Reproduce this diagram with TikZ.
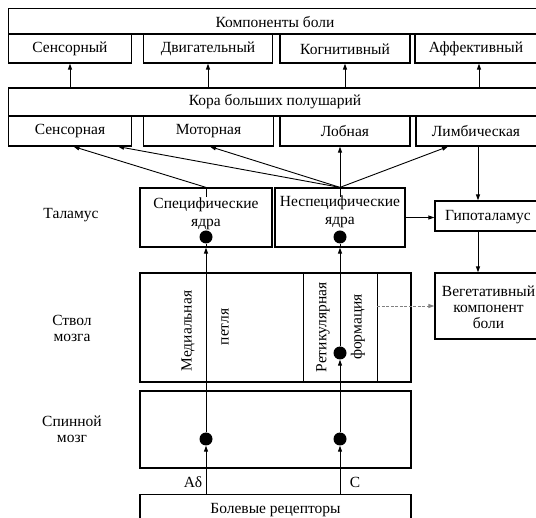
\documentclass[tikz,border=0pt]{standalone}
\usepackage{fontspec}
\setmainfont{Liberation Serif}
\usetikzlibrary{arrows.meta,calc}
\tikzset{
  box/.style={draw, line width=1.2pt, inner sep=0pt},
  txt/.style={inner sep=0pt, align=center, font=\fontsize{15.5}{16}\selectfont},
  arr/.style={line width=0.9pt, -{Triangle[length=6pt,width=4pt]}},
  fib/.style={line width=0.9pt},
  dot/.style={circle, fill=black, inner sep=0pt, minimum size=13pt},
  dasharr/.style={line width=0.9pt, gray, dash pattern=on 3pt off 1.5pt, -{Triangle[length=6pt,width=4pt]}}
}
\begin{document}
\begin{tikzpicture}[x=1pt,y=-1pt]
\useasboundingbox (0,0) rectangle (536,518);
\clip (0,0) rectangle (536,518);
% top components
\node[box, minimum width=534.5pt, minimum height=25.5pt] (comp) at (275.75,21.25) {};
\node[txt] (compt) at (275,22) {Компоненты боли};
\node[box, minimum width=123pt, minimum height=29pt] (c1) at (70,48.5) {};
\node[box, minimum width=129pt, minimum height=29pt] (c2) at (208,48.5) {};
\node[box, minimum width=130pt, minimum height=29pt] (c3) at (345,48.5) {};
\node[box, minimum width=128pt, minimum height=29pt] (c4) at (479,48.5) {};
\node[txt] (c1t) at (70,49) {Сенсорный};
\node[txt] (c2t) at (208,49) {Двигательный};
\node[txt] (c3t) at (345,49) {Когнитивный};
\node[txt] (c4t) at (476,49) {Аффективный};
% cortex
\node[box, minimum width=534.5pt, minimum height=28pt] (kora) at (275.75,102) {};
\node[txt] (korat) at (275,102) {Кора больших полушарий};
\node[box, minimum width=123pt, minimum height=30pt] (k1) at (70,131) {};
\node[box, minimum width=130pt, minimum height=30pt] (k2) at (208.5,131) {};
\node[box, minimum width=130pt, minimum height=30pt] (k3) at (345,131) {};
\node[box, minimum width=127pt, minimum height=30pt] (k4) at (479.5,131) {};
\node[txt] (k1t) at (70,131) {Сенсорная};
\node[txt] (k2t) at (208.5,131) {Моторная};
\node[txt] (k3t) at (345,131) {Лобная};
\node[txt] (k4t) at (476,131) {Лимбическая};
\foreach \n in {c1,c2,c3,c4}{
  \draw[arr] (kora.north -| \n) -- (\n.south);
}
% thalamus
\node[box, minimum width=132pt, minimum height=59pt] (spec) at (206,217.5) {};
\node[box, minimum width=130pt, minimum height=59pt] (nspec) at (340,217.5) {};
\node[txt, text depth=0pt] (spect) at (206,212) {Специфические\\[2pt]ядра};
\node[txt] (nspect) at (340,212) {Неспецифические\\[2pt]ядра};
\node[dot] (sd) at (206,237) {};
\node[dot] (nd) at (340,237) {};
\node[box, minimum width=108pt, minimum height=30pt] (hypo) at (489,216) {};
\node[txt] (hypot) at (488,217) {Гипоталамус};
\node[box, minimum width=108pt, minimum height=66pt] (veg) at (489,306) {};
\node[txt] (vegt) at (488.5,307) {Вегетативный\\компонент\\боли};
% brainstem
\node[box, minimum width=271pt, minimum height=109pt] (stem) at (275.5,327.5) {};
\draw[fib] ([xshift=164pt]stem.north west) -- ([xshift=164pt]stem.south west);
\draw[fib] ([xshift=238pt]stem.north west) coordinate (dv2) -- ([xshift=238pt]stem.south west);
\node[txt, rotate=90] (medt) at (188,331) {Медиальная};
\node[txt, rotate=90] (petl) at (225,327) {петля};
\node[txt, rotate=90] (rett) at (323,327.5) {Ретикулярная};
\node[txt, rotate=90] (fort) at (358,327) {формация};
\node[dot] (rd) at (340,353) {};
% spinal cord
\node[box, minimum width=271pt, minimum height=77pt] (spin) at (275.5,429.5) {};
\node[dot] (s1) at (206,439) {};
\node[dot] (s2) at (340,439) {};
% receptors
\node[box, minimum width=271pt, minimum height=40pt] (rec) at (275.5,514.5) {};
\node[txt] (rect) at (275.5,510) {Болевые рецепторы};
\node[txt] (ad) at (193,482) {Aδ};
\node[txt] (cc) at (355,482) {C};
% left labels
\node[txt] (thl) at (71,215) {Таламус};
\node[txt] (stl) at (72,328) {Ствол\\мозга};
\node[txt] (spl) at (72,429) {Спинной\\мозг};
% fibres
\draw[arr] (rec.north -| s1) -- (s1.south);
\draw[arr] (rec.north -| s2) -- (s2.south);
\draw[arr] (s1) -- (spec.south -| s1);
\draw[fib] (spec.south -| s1) -- (sd);
\draw[arr] (s2) -- (rd.south);
\draw[arr] (rd) -- (nspec.south -| rd);
\draw[fib] (nspec.south -| rd) -- (nd);
\draw[fib] (spec.north) -- ++(0,10);
\draw[fib] (nspec.north) -- ++(0,10);
% to cortex
\coordinate (k1a) at ([xshift=3.5pt]k1.south);
\coordinate (k1b) at ([xshift=48pt]k1.south);
\coordinate (k2a) at ([xshift=1.5pt]k2.south);
\coordinate (k4a) at ([xshift=-31.5pt]k4.south);
\draw[arr] (spec.north) -- (k1a);
\draw[arr] (nspec.north) -- (k1b);
\draw[arr] (nspec.north) -- (k2a);
\draw[arr] (nspec.north) -- (k3.south -| nspec);
\draw[arr] (nspec.north) -- (k4a);
% hypothalamus
\coordinate (hx) at ([xshift=-11pt]hypo.north);
\draw[arr] (k4.south -| hx) -- (hx);
\draw[arr] (nspec.east) -- (nspec.east -| hypo.west);
\draw[arr] (hypo.south -| hx) -- (veg.north -| hx);
\draw[dasharr] (dv2 |- veg.west) -- (veg.west);
\end{tikzpicture}
\end{document}
